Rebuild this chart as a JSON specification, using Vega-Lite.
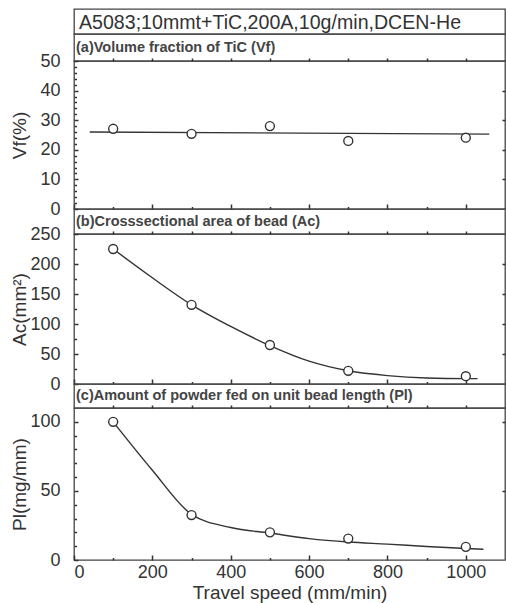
{
  "$schema": "https://vega.github.io/schema/vega-lite/v6.json",
  "padding": {"left": 9, "top": 8, "right": 1, "bottom": 0},
  "spacing": 0,
  "bounds": "flush",
  "resolve": {"scale": {"x": "independent", "y": "independent"}},
  "config": {
    "font": "Liberation Sans",
    "view": {"stroke": "#444", "strokeWidth": 1.3},
    "axis": {"domain": false, "grid": false, "zindex": 1, "labelColor": "#333", "titleColor": "#333", "labelFontSize": 18, "titleFontSize": 19, "titleFontWeight": "normal", "labelOverlap": false}
  },
  "datasets": {
    "pts": [
      {"speed": 100, "vf": 27.1, "ac": 225, "pl": 100},
      {"speed": 300, "vf": 25.4, "ac": 132, "pl": 32.5},
      {"speed": 500, "vf": 28, "ac": 65, "pl": 20},
      {"speed": 700, "vf": 23, "ac": 22, "pl": 15.5},
      {"speed": 1000, "vf": 24.1, "ac": 13, "pl": 9.5}
    ],
    "fitA": [{"speed": 40, "vf": 26.0}, {"speed": 1060, "vf": 25.3}],
    "fitB": [
      {"speed": 100, "ac": 225}, {"speed": 200, "ac": 177}, {"speed": 300, "ac": 132},
      {"speed": 400, "ac": 96}, {"speed": 500, "ac": 64}, {"speed": 600, "ac": 38},
      {"speed": 700, "ac": 22}, {"speed": 800, "ac": 14}, {"speed": 900, "ac": 10},
      {"speed": 1000, "ac": 9}, {"speed": 1030, "ac": 9}
    ],
    "fitC": [
      {"speed": 100, "pl": 100}, {"speed": 200, "pl": 65}, {"speed": 300, "pl": 33},
      {"speed": 400, "pl": 23.5}, {"speed": 500, "pl": 19.5}, {"speed": 600, "pl": 15.5},
      {"speed": 700, "pl": 13}, {"speed": 800, "pl": 11.5}, {"speed": 900, "pl": 9.8},
      {"speed": 1000, "pl": 8.3}, {"speed": 1045, "pl": 7.8}
    ],
    "hdr": [{"t": "A5083;10mmt+TiC,200A,10g/min,DCEN-He"}],
    "la": [{"t": "(a)Volume fraction of TiC (Vf)"}],
    "lb": [{"t": "(b)Crosssectional area of bead (Ac)"}],
    "lc": [{"t": "(c)Amount of powder fed on unit bead length (Pl)"}]
  },
  "vconcat": [
    {
      "width": 431, "height": 25,
      "data": {"name": "hdr"},
      "mark": {"type": "text", "align": "left", "baseline": "middle", "fontSize": 19.6, "color": "#333", "dx": 5},
      "encoding": {
        "x": {"datum": 0, "type": "quantitative", "scale": {"domain": [0, 1]}, "axis": null},
        "y": {"datum": 0.45, "type": "quantitative", "scale": {"domain": [0, 1]}, "axis": null},
        "text": {"field": "t"}
      }
    },
    {
      "width": 431, "height": 27,
      "data": {"name": "la"},
      "mark": {"type": "text", "align": "left", "baseline": "middle", "fontSize": 14.5, "fontWeight": "bold", "color": "#444", "dx": 2},
      "encoding": {
        "x": {"datum": 0, "type": "quantitative", "scale": {"domain": [0, 1]}, "axis": null},
        "y": {"datum": 0.5, "type": "quantitative", "scale": {"domain": [0, 1]}, "axis": null},
        "text": {"field": "t"}
      }
    },
    {
      "width": 431, "height": 148,
      "layer": [
        {
          "data": {"name": "fitA"},
          "mark": {"type": "line", "color": "#333", "strokeWidth": 1.4},
          "encoding": {
            "x": {"field": "speed", "type": "quantitative", "scale": {"domain": [0, 1100], "nice": false},
              "axis": {"orient": "bottom", "ticks": true, "tickColor": "#333", "tickWidth": 1.5, "offset": -5, "tickSize": 5, "values": [0, 200, 400, 600, 800, 1000], "labels": false, "title": null}},
            "y": {"field": "vf", "type": "quantitative", "scale": {"domain": [0, 50], "nice": false},
              "axis": {"orient": "left", "ticks": true, "tickColor": "#333", "tickWidth": 1.5, "offset": -4, "tickSize": 4, "title": "Vf(%)", "titleX": -49, "values": [0, 10, 20, 30, 40, 50], "labelPadding": 14}}
          }
        },
        {
          "data": {"name": "pts"},
          "mark": {"type": "point", "shape": "circle", "size": 80, "filled": false, "fill": "white", "fillOpacity": 1, "stroke": "#333", "strokeWidth": 1.4, "opacity": 1},
          "encoding": {
            "x": {"field": "speed", "type": "quantitative",
              "axis": {"orient": "top", "ticks": true, "tickColor": "#333", "tickWidth": 1.5, "tickSize": 3, "values": [100, 200, 300, 400, 500, 600, 700, 800, 900, 1000], "labels": false, "title": null}},
            "y": {"field": "vf", "type": "quantitative",
              "axis": {"orient": "right", "ticks": true, "tickColor": "#333", "tickWidth": 1.5, "offset": -3, "tickSize": 3, "values": [10, 20, 30, 40], "labels": false, "title": null}}
          }
        },
        {
          "data": {"name": "pts"},
          "mark": {"type": "point", "opacity": 0},
          "encoding": {
            "x": {"field": "speed", "type": "quantitative",
              "axis": {"orient": "bottom", "ticks": true, "tickColor": "#333", "tickWidth": 1.5, "offset": -2.5, "tickSize": 2.5, "values": [100, 300, 500, 700, 900], "labels": false, "title": null}},
            "y": {"field": "vf", "type": "quantitative",
              "axis": {"orient": "left", "ticks": true, "tickColor": "#333", "tickWidth": 1.5, "offset": -2.5, "tickSize": 2.5, "values": [2, 4, 6, 8, 12, 14, 16, 18, 22, 24, 26, 28, 32, 34, 36, 38, 42, 44, 46, 48], "labels": false, "title": null}}
          }
        }
      ],
      "resolve": {"axis": {"x": "independent", "y": "independent"}}
    },
    {
      "width": 431, "height": 25,
      "data": {"name": "lb"},
      "mark": {"type": "text", "align": "left", "baseline": "middle", "fontSize": 14.5, "fontWeight": "bold", "color": "#444", "dx": 2},
      "encoding": {
        "x": {"datum": 0, "type": "quantitative", "scale": {"domain": [0, 1]}, "axis": null},
        "y": {"datum": 0.5, "type": "quantitative", "scale": {"domain": [0, 1]}, "axis": null},
        "text": {"field": "t"}
      }
    },
    {
      "width": 431, "height": 150,
      "layer": [
        {
          "data": {"name": "fitB"},
          "mark": {"type": "line", "color": "#333", "strokeWidth": 1.4, "interpolate": "monotone"},
          "encoding": {
            "x": {"field": "speed", "type": "quantitative", "scale": {"domain": [0, 1100], "nice": false},
              "axis": {"orient": "bottom", "ticks": true, "tickColor": "#333", "tickWidth": 1.5, "offset": -5, "tickSize": 5, "values": [0, 200, 400, 600, 800, 1000], "labels": false, "title": null}},
            "y": {"field": "ac", "type": "quantitative", "scale": {"domain": [0, 250], "nice": false},
              "axis": {"orient": "left", "ticks": true, "tickColor": "#333", "tickWidth": 1.5, "offset": -4, "tickSize": 4, "title": "Ac(mm²)", "titleX": -49, "values": [0, 50, 100, 150, 200, 250], "labelPadding": 14}}
          }
        },
        {
          "data": {"name": "pts"},
          "mark": {"type": "point", "shape": "circle", "size": 80, "filled": false, "fill": "white", "fillOpacity": 1, "stroke": "#333", "strokeWidth": 1.4, "opacity": 1},
          "encoding": {
            "x": {"field": "speed", "type": "quantitative",
              "axis": {"orient": "top", "ticks": true, "tickColor": "#333", "tickWidth": 1.5, "tickSize": 3, "values": [100, 200, 300, 400, 500, 600, 700, 800, 900, 1000], "labels": false, "title": null}},
            "y": {"field": "ac", "type": "quantitative",
              "axis": {"orient": "right", "ticks": true, "tickColor": "#333", "tickWidth": 1.5, "offset": -3, "tickSize": 3, "values": [50, 100, 150, 200], "labels": false, "title": null}}
          }
        },
        {
          "data": {"name": "pts"},
          "mark": {"type": "point", "opacity": 0},
          "encoding": {
            "x": {"field": "speed", "type": "quantitative",
              "axis": {"orient": "bottom", "ticks": true, "tickColor": "#333", "tickWidth": 1.5, "offset": -2.5, "tickSize": 2.5, "values": [100, 300, 500, 700, 900], "labels": false, "title": null}},
            "y": {"field": "ac", "type": "quantitative",
              "axis": {"orient": "left", "ticks": true, "tickColor": "#333", "tickWidth": 1.5, "offset": -2.5, "tickSize": 2.5, "values": [25, 75, 125, 175, 225], "labels": false, "title": null}}
          }
        }
      ],
      "resolve": {"axis": {"x": "independent", "y": "independent"}}
    },
    {
      "width": 431, "height": 24,
      "data": {"name": "lc"},
      "mark": {"type": "text", "align": "left", "baseline": "middle", "fontSize": 14.5, "fontWeight": "bold", "color": "#444", "dx": 2},
      "encoding": {
        "x": {"datum": 0, "type": "quantitative", "scale": {"domain": [0, 1]}, "axis": null},
        "y": {"datum": 0.5, "type": "quantitative", "scale": {"domain": [0, 1]}, "axis": null},
        "text": {"field": "t"}
      }
    },
    {
      "width": 431, "height": 152,
      "layer": [
        {
          "data": {"name": "fitC"},
          "mark": {"type": "line", "color": "#333", "strokeWidth": 1.4, "interpolate": "monotone"},
          "encoding": {
            "x": {"field": "speed", "type": "quantitative", "scale": {"domain": [0, 1100], "nice": false},
              "axis": {"orient": "bottom", "ticks": true, "tickColor": "#333", "tickWidth": 1.5, "offset": -5, "tickSize": 5, "values": [0, 200, 400, 600, 800, 1000], "format": "d", "labelPadding": 3, "title": "Travel speed (mm/min)", "titlePadding": 2}},
            "y": {"field": "pl", "type": "quantitative", "scale": {"domain": [0, 110], "nice": false},
              "axis": {"orient": "left", "ticks": true, "tickColor": "#333", "tickWidth": 1.5, "offset": -4, "tickSize": 4, "title": "Pl(mg/mm)", "titleX": -49, "values": [0, 50, 100], "labelPadding": 14}}
          }
        },
        {
          "data": {"name": "pts"},
          "mark": {"type": "point", "shape": "circle", "size": 80, "filled": false, "fill": "white", "fillOpacity": 1, "stroke": "#333", "strokeWidth": 1.4, "opacity": 1},
          "encoding": {
            "x": {"field": "speed", "type": "quantitative",
              "axis": {"orient": "top", "ticks": true, "tickColor": "#333", "tickWidth": 1.5, "tickSize": 3, "values": [100, 200, 300, 400, 500, 600, 700, 800, 900, 1000], "labels": false, "title": null}},
            "y": {"field": "pl", "type": "quantitative",
              "axis": {"orient": "right", "ticks": true, "tickColor": "#333", "tickWidth": 1.5, "offset": -3, "tickSize": 3, "values": [50, 100], "labels": false, "title": null}}
          }
        },
        {
          "data": {"name": "pts"},
          "mark": {"type": "point", "opacity": 0},
          "encoding": {
            "x": {"field": "speed", "type": "quantitative",
              "axis": {"orient": "bottom", "ticks": true, "tickColor": "#333", "tickWidth": 1.5, "offset": -2.5, "tickSize": 2.5, "values": [100, 300, 500, 700, 900], "labels": false, "title": null}},
            "y": {"field": "pl", "type": "quantitative",
              "axis": {"orient": "left", "ticks": true, "tickColor": "#333", "tickWidth": 1.5, "offset": -2.5, "tickSize": 2.5, "values": [10, 20, 30, 40, 60, 70, 80, 90], "labels": false, "title": null}}
          }
        }
      ],
      "resolve": {"axis": {"x": "independent", "y": "independent"}}
    }
  ]
}
